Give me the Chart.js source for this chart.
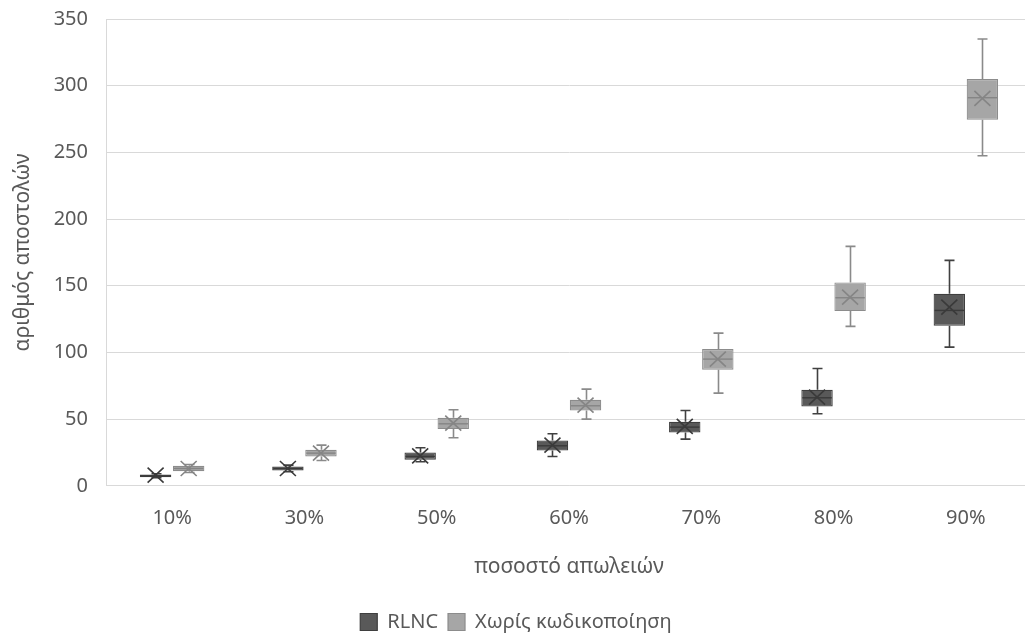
<!DOCTYPE html>
<html lang="el">
<head>
<meta charset="utf-8">
<title>Αριθμός αποστολών ανά ποσοστό απωλειών</title>
<script src="https://cdn.jsdelivr.net/npm/chart.js@4/dist/chart.umd.min.js"></script>
<style>
  html, body { margin: 0; padding: 0; background: #ffffff; overflow: hidden; }
  #wrap { width: 1025px; height: 639px; overflow: hidden; }
  canvas { display: block; }
</style>
</head>
<body>
<div id="wrap"><canvas id="chart" width="1040" height="639"></canvas></div>
<script>
// Loss rates on the horizontal axis
const categories = ['10%', '30%', '50%', '60%', '70%', '80%', '90%'];

// RLNC: five-number summary and mean per loss rate
const rlncMin    = [6,    10.5, 18,   22,   35,   54,   104];
const rlncQ1     = [6.5,  11.5, 19.5, 26.5, 40,   59.5, 120];
const rlncMedian = [7.5,  13,   22,   30,   44,   66,   131.5];
const rlncQ3     = [8.5,  14.5, 25,   34,   48,   72,   144];
const rlncMax    = [9,    15.5, 28.5, 39,   56.5, 88,   169];
const rlncMean   = [8,    13,   22.5, 30.5, 44.5, 66.5, 134];

// Without coding: five-number summary and mean per loss rate
const plainMin    = [10,  19,   36,   50,   69.5,  119.5, 247.5];
const plainQ1     = [11,  22,   42.5, 56.5, 87,    131,   274.5];
const plainMedian = [13,  24.5, 46.5, 60,   95,    141,   291];
const plainQ3     = [15,  27,   51,   64.5, 102.5, 152.5, 305];
const plainMax    = [16,  30.5, 57,   72.5, 114.5, 179.5, 335];
const plainMean   = [13,  24.5, 47,   60.5, 95,    141.5, 290.5];

// Y axis range and tick step
const yMin = 0, yMax = 350, yStep = 50;

const FONT = '"Noto Sans", "Open Sans", sans-serif';
const TEXT = '#595959';
const GRID = '#d9d9d9';

const styles = [
  { fill: '#595959', edge: '#3f3f3f', whisker: '#404040', mark: '#3a3a3a' },
  { fill: '#a6a6a6', edge: '#8c8c8c', whisker: '#8a8a8a', mark: '#858585' }
];

const stats = [
  { min: rlncMin,  q1: rlncQ1,  med: rlncMedian,  q3: rlncQ3,  max: rlncMax,  mean: rlncMean },
  { min: plainMin, q1: plainQ1, med: plainMedian, q3: plainQ3, max: plainMax, mean: plainMean }
];

// Whiskers behind the boxes, median line and mean cross on top
const boxPlotParts = {
  id: 'boxPlotParts',
  beforeDatasetsDraw(chart) {
    const ctx = chart.ctx, y = chart.scales.y;
    chart.data.datasets.forEach((ds, di) => {
      const meta = chart.getDatasetMeta(di);
      const s = stats[di], st = styles[di];
      meta.data.forEach((bar, i) => {
        const x = Math.round(bar.x) + 0.5;
        const cap = 5;
        ctx.save();
        ctx.strokeStyle = st.whisker;
        ctx.lineWidth = 1.6;
        const pMax = y.getPixelForValue(s.max[i]);
        const pMin = y.getPixelForValue(s.min[i]);
        const pQ3 = y.getPixelForValue(s.q3[i]);
        const pQ1 = y.getPixelForValue(s.q1[i]);
        ctx.beginPath();
        ctx.moveTo(x, pMax); ctx.lineTo(x, pQ3);
        ctx.moveTo(x, pQ1); ctx.lineTo(x, pMin);
        ctx.moveTo(x - cap, pMax); ctx.lineTo(x + cap, pMax);
        ctx.moveTo(x - cap, pMin); ctx.lineTo(x + cap, pMin);
        ctx.stroke();
        ctx.restore();
      });
    });
  },
  afterDatasetsDraw(chart) {
    const ctx = chart.ctx, y = chart.scales.y;
    chart.data.datasets.forEach((ds, di) => {
      const meta = chart.getDatasetMeta(di);
      const s = stats[di], st = styles[di];
      meta.data.forEach((bar, i) => {
        const x = bar.x, half = bar.width / 2;
        const pMed = y.getPixelForValue(s.med[i]);
        const pMean = y.getPixelForValue(s.mean[i]);
        ctx.save();
        ctx.strokeStyle = st.mark;
        ctx.lineWidth = 1.4;
        ctx.beginPath();
        ctx.moveTo(x - half + 1, pMed); ctx.lineTo(x + half - 1, pMed);
        ctx.stroke();
        const rx = 8, ry = 7.5;
        ctx.lineWidth = 1.6;
        ctx.beginPath();
        ctx.moveTo(x - rx, pMean - ry); ctx.lineTo(x + rx, pMean + ry);
        ctx.moveTo(x + rx, pMean - ry); ctx.lineTo(x - rx, pMean + ry);
        ctx.stroke();
        ctx.restore();
      });
    });
  }
};

const seriesNames = ['RLNC', 'Χωρίς κωδικοποίηση'];

new Chart(document.getElementById('chart'), {
  type: 'bar',
  data: {
    labels: categories,
    datasets: stats.map((s, di) => ({
      label: seriesNames[di],
      data: s.q1.map((v, i) => [v, s.q3[i]]),
      backgroundColor: styles[di].fill,
      borderColor: styles[di].edge,
      borderWidth: 1.2,
      borderSkipped: false,
      categoryPercentage: 0.5,
      barPercentage: 0.95
    }))
  },
  options: {
    responsive: false,
    animation: false,
    devicePixelRatio: 1,
    layout: { padding: { left: 0, right: 8, top: 19, bottom: -3 } },
    plugins: {
      tooltip: { enabled: false },
      legend: {
        position: 'bottom',
        labels: {
          color: TEXT,
          font: { family: FONT, size: 20 },
          boxWidth: 17,
          boxHeight: 17,
          padding: 10
        }
      }
    },
    scales: {
      x: {
        grid: { display: false, drawTicks: false },
        border: { display: true, color: GRID, width: 1 },
        ticks: { color: TEXT, font: { family: FONT, size: 20 }, padding: 20 },
        title: {
          display: true,
          text: 'ποσοστό απωλειών',
          color: TEXT,
          font: { family: FONT, size: 21 },
          padding: { top: 5, bottom: 22 }
        }
      },
      y: {
        min: yMin,
        max: yMax,
        grid: { color: GRID, lineWidth: 1, drawTicks: false },
        border: { display: true, color: GRID, width: 1 },
        ticks: { stepSize: yStep, color: TEXT, font: { family: FONT, size: 20 }, padding: 18 },
        title: {
          display: true,
          text: 'αριθμός αποστολών',
          color: TEXT,
          font: { family: FONT, size: 21 },
          padding: { top: 10, bottom: 0 }
        },
        afterFit(scale) {
          scale.width = 106;
          scale.paddingTop = 0;
          scale.paddingBottom = 0;
        }
      }
    }
  },
  plugins: [boxPlotParts]
});
</script>
</body>
</html>
